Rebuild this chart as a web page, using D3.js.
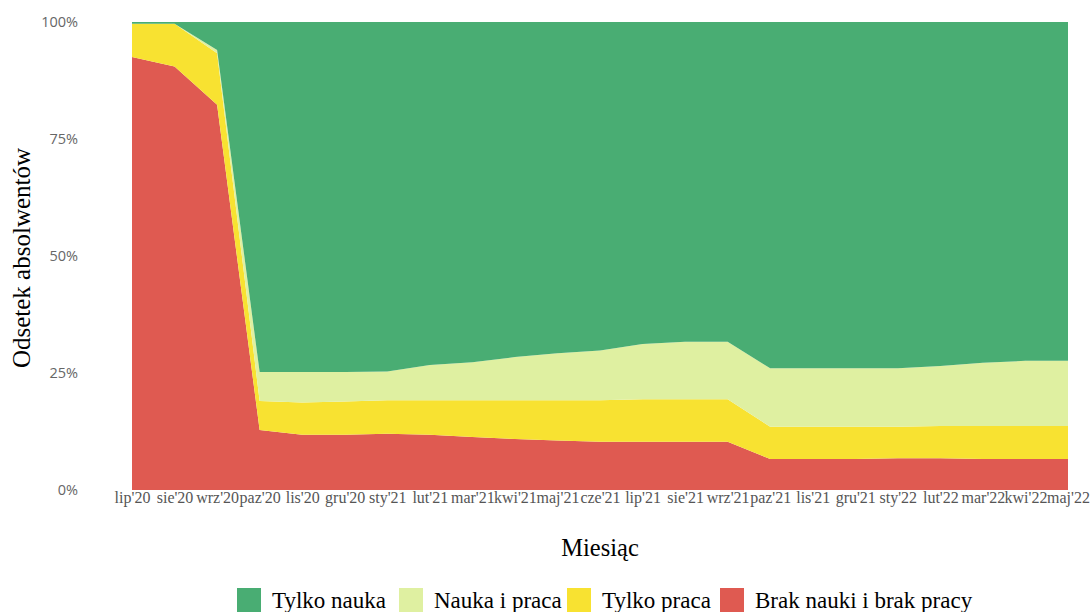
<!DOCTYPE html>
<html>
<head>
<meta charset="utf-8">
<script src="https://cdn.jsdelivr.net/npm/d3@7"></script>
<style>
  body { margin: 0; background: #fff; }
</style>
</head>
<body>
<div id="chart"></div>
<script>
// months on the x axis
const months = ["lip'20", "sie'20", "wrz'20", "paz'20", "lis'20", "gru'20", "sty'21", "lut'21",
  "mar'21", "kwi'21", "maj'21", "cze'21", "lip'21", "sie'21", "wrz'21", "paz'21", "lis'21",
  "gru'21", "sty'22", "lut'22", "mar'22", "kwi'22", "maj'22"];

// shares in percent
const brak = [92.5, 90.5, 82.3, 12.8, 11.8, 11.8, 12.0, 11.8, 11.3, 10.9, 10.6, 10.3, 10.3, 10.3,
  10.3, 6.6, 6.6, 6.6, 6.8, 6.8, 6.6, 6.6, 6.6];
const tylkoPraca = [7.1, 9.1, 11.0, 6.2, 6.9, 7.1, 7.2, 7.4, 7.9, 8.3, 8.6, 8.9, 9.1, 9.1,
  9.1, 6.9, 6.9, 6.9, 6.7, 6.9, 7.1, 7.1, 7.1];
const naukaPraca = [0.0, 0.0, 0.7, 6.2, 6.5, 6.3, 6.1, 7.5, 8.1, 9.2, 10.0, 10.6, 11.8, 12.3,
  12.3, 12.5, 12.5, 12.5, 12.5, 12.8, 13.5, 13.9, 13.9];
const tylkoNauka = [0.4, 0.4, 6.0, 74.8, 74.8, 74.8, 74.7, 73.3, 72.7, 71.6, 70.8, 70.2, 68.8, 68.3,
  68.3, 74.0, 74.0, 74.0, 74.0, 73.5, 72.8, 72.4, 72.4];

const series = ["Brak nauki i brak pracy", "Tylko praca", "Nauka i praca", "Tylko nauka"];
const colors = ["#df5a51", "#f8e231", "#dff0a1", "#49ad73"];
const legendOrder = ["Tylko nauka", "Nauka i praca", "Tylko praca", "Brak nauki i brak pracy"];
const yTicks = [0, 0.25, 0.5, 0.75, 1];

const width = 1091, height = 612;
const margin = {left: 132, right: 23, top: 22, bottom: 122};

const rows = months.map((m, i) => ({
  month: m,
  "Brak nauki i brak pracy": brak[i],
  "Tylko praca": tylkoPraca[i],
  "Nauka i praca": naukaPraca[i],
  "Tylko nauka": tylkoNauka[i]
}));

const svg = d3.select("#chart").append("svg")
  .attr("width", width)
  .attr("height", height)
  .style("font-family", "'Liberation Serif', serif");

const x = d3.scalePoint()
  .domain(months)
  .range([margin.left, width - margin.right]);

const y = d3.scaleLinear()
  .domain([0, 1])
  .range([height - margin.bottom, margin.top]);

const color = d3.scaleOrdinal().domain(series).range(colors);

const stacked = d3.stack()
  .keys(series)
  .offset(d3.stackOffsetExpand)(rows);

const area = d3.area()
  .x(d => x(d.data.month))
  .y0(d => y(d[0]))
  .y1(d => y(d[1]));

svg.append("g")
  .selectAll("path")
  .data(stacked)
  .join("path")
  .attr("fill", d => color(d.key))
  .attr("d", area);

// y axis, no line and no ticks
const yAxis = svg.append("g")
  .attr("transform", `translate(${margin.left - 54},0)`)
  .call(d3.axisLeft(y).tickValues(yTicks).tickFormat(d3.format(".0%")).tickSize(0));
yAxis.select(".domain").remove();
yAxis.selectAll("text")
  .attr("x", 0)
  .attr("fill", "#666")
  .style("font-family", "'Open Sans', sans-serif")
  .style("font-size", "14.5px");

// x axis
const xAxis = svg.append("g")
  .attr("transform", `translate(0,${height - margin.bottom})`)
  .call(d3.axisBottom(x).tickSize(0).tickPadding(2));
xAxis.select(".domain").remove();
xAxis.selectAll("text")
  .attr("fill", "#555")
  .style("font-family", "'Liberation Serif', serif")
  .style("font-size", "16px");

// axis titles
svg.append("text")
  .attr("x", (margin.left + width - margin.right) / 2)
  .attr("y", 556)
  .attr("text-anchor", "middle")
  .style("font-size", "24.5px")
  .text("Miesiąc");

svg.append("text")
  .attr("transform", `translate(30,${(margin.top + height - margin.bottom) / 2 + 2}) rotate(-90)`)
  .attr("text-anchor", "middle")
  .style("font-size", "25px")
  .text("Odsetek absolwentów");

// legend
const legendX = [237, 399, 567, 720];
const legend = svg.append("g")
  .selectAll("g")
  .data(legendOrder)
  .join("g")
  .attr("transform", (d, i) => `translate(${legendX[i]},588)`);

legend.append("rect")
  .attr("width", 24)
  .attr("height", 24)
  .attr("fill", d => color(d));

legend.append("text")
  .attr("x", 35)
  .attr("y", 20)
  .style("font-size", "23px")
  .text(d => d);
</script>
</body>
</html>
